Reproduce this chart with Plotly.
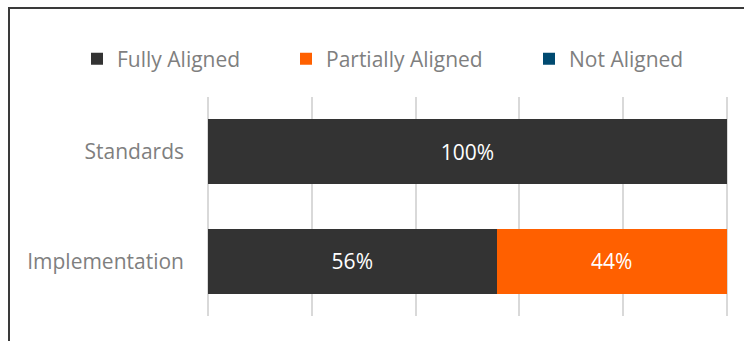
import plotly.graph_objects as go

categories = ["Implementation", "Standards"]
fully = [55.6, 100]
partially = [44.4, 0]
not_aligned = [0, 0]
series_names = ["Fully Aligned", "Partially Aligned", "Not Aligned"]
colors = ["#333333", "#FF6000", "#004A70"]
tick_vals = [0, 20, 40, 60, 80, 100]

W, H = 744, 341
FONT = "Open Sans"
GRAY = "#7F7F7F"
FS = 21

fig = go.Figure()
legend_ids = ["legend", "legend2", "legend3"]
for name, vals, col, lg in zip(series_names, [fully, partially, not_aligned], colors, legend_ids):
    fig.add_trace(go.Bar(
        y=categories, x=vals, name=name, orientation="h",
        marker=dict(color=col, line=dict(width=0)),
        text=[f"{v:.0f}%" if v > 0 else "" for v in vals],
        textposition="inside", insidetextanchor="middle",
        textfont=dict(color="white", size=FS, family=FONT),
        legend=lg, hoverinfo="skip",
    ))

leg_x = [77, 286, 529]
legend_common = dict(orientation="h", xref="container", yref="container",
                     xanchor="left", yanchor="middle", y=1 - 59 / H,
                     font=dict(size=FS, color=GRAY, family=FONT),
                     bgcolor="rgba(0,0,0,0)", itemclick=False)
fig.update_layout(
    width=W, height=H,
    margin=dict(l=207, r=16, t=97, b=25),
    paper_bgcolor="white", plot_bgcolor="white",
    barmode="stack", bargap=0.41,
    font=dict(family=FONT, color=GRAY, size=FS),
    legend=dict(x=leg_x[0] / W, **legend_common),
    legend2=dict(x=leg_x[1] / W, **legend_common),
    legend3=dict(x=leg_x[2] / W, **legend_common),
    xaxis=dict(range=[-0.2, 100.2], tickvals=tick_vals, showticklabels=False,
               showgrid=True, gridcolor="#D9D9D9", gridwidth=2,
               zeroline=False, showline=False, fixedrange=True),
    yaxis=dict(showgrid=False, zeroline=False, showline=False,
               ticks="", ticklabelstandoff=22,
               tickfont=dict(size=FS, color=GRAY, family=FONT)),
    showlegend=True,
)

# outer frame (partially cut by the window)
fig.add_shape(type="rect", xref="paper", yref="paper",
              x0=(9 - 207) / 521, x1=1.2, y0=-0.3, y1=(316 - 8) / 219,
              line=dict(color="#3A3A3A", width=2), fillcolor="rgba(0,0,0,0)", layer="below")

fig.write_html("out.html")
